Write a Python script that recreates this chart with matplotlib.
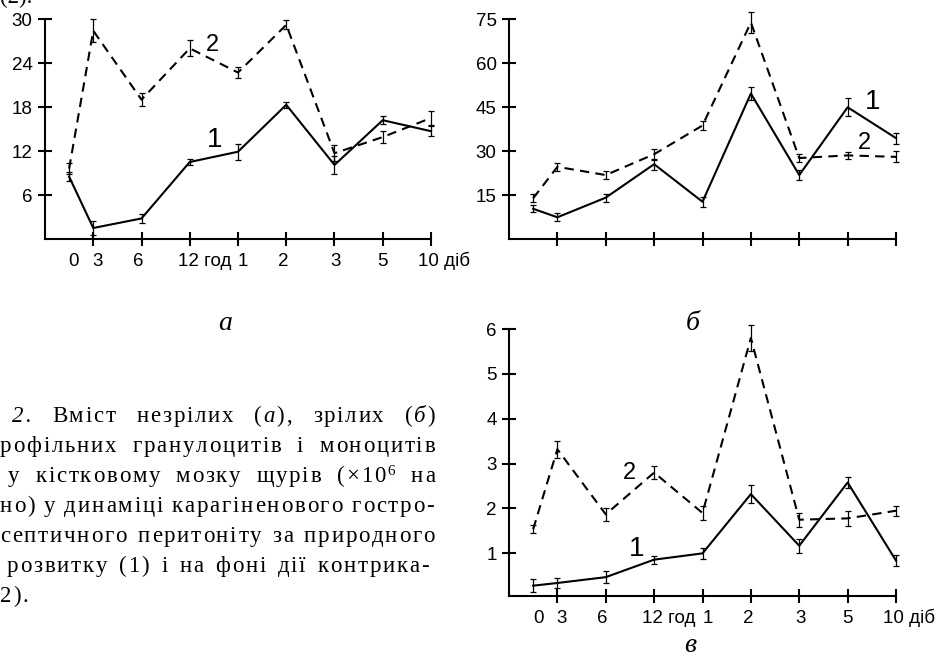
import numpy as np
import matplotlib
matplotlib.use("Agg")
import matplotlib.pyplot as plt
from matplotlib.font_manager import FontProperties, findfont, get_font

# ---------------- data ----------------
time_labels = ["0", "3", "6", "12 год", "1", "2", "3", "5", "10 діб"]

# panel a (незрілі)
a1 = [8.5, 1.5, 2.8, 10.5, 11.9, 18.3, 10.1, 16.2, 14.7]
a1_err = [0.6, 1.0, 0.6, 0.4, 1.1, 0.45, 1.25, 0.55, 0.65]
a2 = [9.6, 28.4, 19.0, 26.0, 22.7, 29.2, 11.7, 13.9, 16.5]
a2_err = [0.8, 1.6, 0.9, 1.1, 0.75, 0.6, 1.1, 0.85, 0.95]

# panel б (зрілі)
b1 = [10.3, 7.4, 14.1, 25.5, 12.7, 49.6, 21.8, 44.9, 34.4]
b1_err = [1.2, 1.4, 1.4, 1.9, 1.7, 2.3, 1.6, 3.0, 1.9]
b2 = [13.9, 24.6, 21.8, 28.9, 38.7, 73.8, 27.6, 28.5, 28.0]
b2_err = [1.4, 1.3, 1.3, 1.8, 1.4, 3.7, 1.35, 1.3, 1.9]

# panel в (моноцити)
c1 = [0.28, 0.34, 0.47, 0.86, 1.0, 2.32, 1.17, 2.58, 0.84]
c1_err = [0.15, 0.12, 0.13, 0.09, 0.12, 0.2, 0.16, 0.12, 0.12]
c2 = [1.54, 3.32, 1.87, 2.8, 1.9, 5.8, 1.75, 1.78, 1.95]
c2_err = [0.09, 0.19, 0.14, 0.14, 0.16, 0.3, 0.16, 0.17, 0.11]

a_yticks = [6, 12, 18, 24, 30]
b_yticks = [15, 30, 45, 60, 75]
c_yticks = [1, 2, 3, 4, 5, 6]

caption_lines = [
    [[("2.", "i")], [("Вміст", "n")], [("незрілих", "n")],
     [("(", "n"), ("а", "i"), ("),", "n")], [("зрілих", "n")],
     [("(", "n"), ("б", "i"), (")", "n")]],
    [[("рофільних", "n")], [("гранулоцитів", "n")], [("і", "n")], [("моноцитів", "n")]],
    [[("у", "n")], [("кістковому", "n")], [("мозку", "n")], [("щурів", "n")],
     [("(×10", "n"), ("6", "s")], [("на", "n")]],
    [[("но)", "n")], [("у", "n")], [("динаміці", "n")], [("карагіненового", "n")],
     [("гостро-", "n")]],
    [[("септичного", "n")], [("перитоніту", "n")], [("за", "n")], [("природного", "n")]],
    [[("розвитку", "n")], [("(1)", "n")], [("і", "n")], [("на", "n")], [("фоні", "n")],
     [("дії", "n")], [("контрика-", "n")]],
    [[("2).", "n")]],
]

# ---------------- layout ----------------
W, H = 940, 659
fig = plt.figure(figsize=(W / 100, H / 100), dpi=100)


def px_axes(left, top, right, bottom):
    return fig.add_axes([left / W, 1 - bottom / H, (right - left) / W, (bottom - top) / H])


axA = px_axes(45, 19, 431, 239)
axB = px_axes(509, 19, 896, 239)
axC = px_axes(509, 329, 896, 596)

x_pos = np.concatenate([[0.5], np.arange(1, 9)])
label_x = [0.6, 1.08, 1.93, 2.75, 4.1, 4.94, 6.03, 6.99, 7.73]
label_ha = ["center", "center", "center", "left", "center", "center", "center", "center", "left"]

SANS = "Liberation Sans"
SERIF = "Liberation Serif"
DASH = (0, (4.5, 3))


def style_axes(ax, ylim, yticks):
    ax.set_xlim(0, 8)
    ax.set_ylim(*ylim)
    for s in ("top", "right"):
        ax.spines[s].set_visible(False)
    for s in ("left", "bottom"):
        ax.spines[s].set_linewidth(1.5)
    ax.set_xticks(np.arange(1, 9))
    ax.set_xticklabels([])
    ax.set_yticks(yticks)
    ax.set_yticklabels([str(t) for t in yticks], fontfamily=SANS, fontsize=13.5)
    ax.tick_params(direction="inout", length=10, width=1.5, pad=4)
    ax.patch.set_visible(False)


def draw_series(ax, y, err, ls):
    ax.plot(x_pos, y, color="black", lw=1.5, ls=ls, clip_on=False, zorder=3)
    ax.errorbar(x_pos, y, yerr=err, fmt="none", ecolor="black", elinewidth=0.9,
                capsize=2.5, capthick=0.9, clip_on=False, zorder=4)


def x_labels(ax):
    for s, x, ha in zip(time_labels, label_x, label_ha):
        ax.annotate(s, xy=(x, 0), xycoords=("data", "axes fraction"),
                    xytext=(0, -19.5), textcoords="offset points",
                    ha=ha, va="baseline", fontsize=13.5, fontfamily=SANS)


style_axes(axA, (0, 30), a_yticks)
draw_series(axA, a1, a1_err, "-")
draw_series(axA, a2, a2_err, DASH)
x_labels(axA)
axA.text(3.48, 26.5, "2", fontsize=17, fontfamily=SANS, ha="center", va="center")
axA.text(3.52, 13.5, "1", fontsize=20, fontfamily=SANS, ha="center", va="center")

style_axes(axB, (0, 75), b_yticks)
draw_series(axB, b1, b1_err, "-")
draw_series(axB, b2, b2_err, DASH)
axB.text(7.52, 46.7, "1", fontsize=20, fontfamily=SANS, ha="center", va="center")
axB.text(7.35, 32.6, "2", fontsize=17, fontfamily=SANS, ha="center", va="center")

style_axes(axC, (0.05, 6), c_yticks)
draw_series(axC, c1, c1_err, "-")
draw_series(axC, c2, c2_err, DASH)
x_labels(axC)
axC.text(2.49, 2.79, "2", fontsize=17, fontfamily=SANS, ha="center", va="center")
axC.text(2.64, 1.09, "1", fontsize=20, fontfamily=SANS, ha="center", va="center")

# panel letters
for (cx, base, s) in [(225, 330, "а"), (693, 330, "б"), (690, 652, "в")]:
    fig.text(cx / W, 1 - base / H, s, fontsize=20, fontfamily=SERIF, fontstyle="italic",
             ha="center", va="baseline")

# ---------------- caption (justified, letter-spaced) ----------------
CAP_FS = 16.5
TRACK = 1.8
MIN_GAP = 9.0
props = {
    "n": FontProperties(family=SERIF, size=CAP_FS),
    "i": FontProperties(family=SERIF, size=CAP_FS, style="italic"),
    "s": FontProperties(family=SERIF, size=CAP_FS * 0.66),
}
rise = {"n": 0, "i": 0, "s": 7}


def advance(ch, fp):
    f = get_font(findfont(fp))
    f.set_size(fp.get_size_in_points(), 100)
    g = f.load_char(ord(ch))
    return g.linearHoriAdvance / 65536


def layout_word(word, track):
    items, x = [], 0.0
    for text, st in word:
        for ch in text:
            items.append((ch, st, x))
            x += advance(ch, props[st]) + track
    return items, x - track


line_base = [422, 452, 482, 512, 542, 572, 602]
line_x0 = [12, 0, 8, 0, 0, 7, 0]
line_x1 = [435, 435, 435, 434, 435, 429, None]

for words, base, x0, x1 in zip(caption_lines, line_base, line_x0, line_x1):
    track = TRACK
    if x1 is not None and len(words) > 1:
        raw = sum(layout_word(w, 0.0)[1] for w in words)
        inner = sum(sum(len(t) for t, _ in w) - 1 for w in words)
        room = x1 - x0 - raw - (len(words) - 1) * MIN_GAP
        track = max(0.0, min(TRACK, room / inner))
    laid = [layout_word(w, track) for w in words]
    total = sum(w for _, w in laid)
    if x1 is not None and len(words) > 1:
        gap = (x1 - x0 - total) / (len(words) - 1)
    else:
        gap = advance(" ", props["n"]) + track
    x = x0
    for items, wdt in laid:
        for ch, st, off in items:
            fig.text((x + off) / W, 1 - (base - rise[st]) / H, ch,
                     fontproperties=props[st], ha="left", va="baseline")
        x += wdt + gap

# fragment of the previous caption at the very top
fig.text(0, 1 - 3 / H, "(2).", fontproperties=props["n"], ha="left", va="baseline")

fig.savefig("out.png", dpi=100)
